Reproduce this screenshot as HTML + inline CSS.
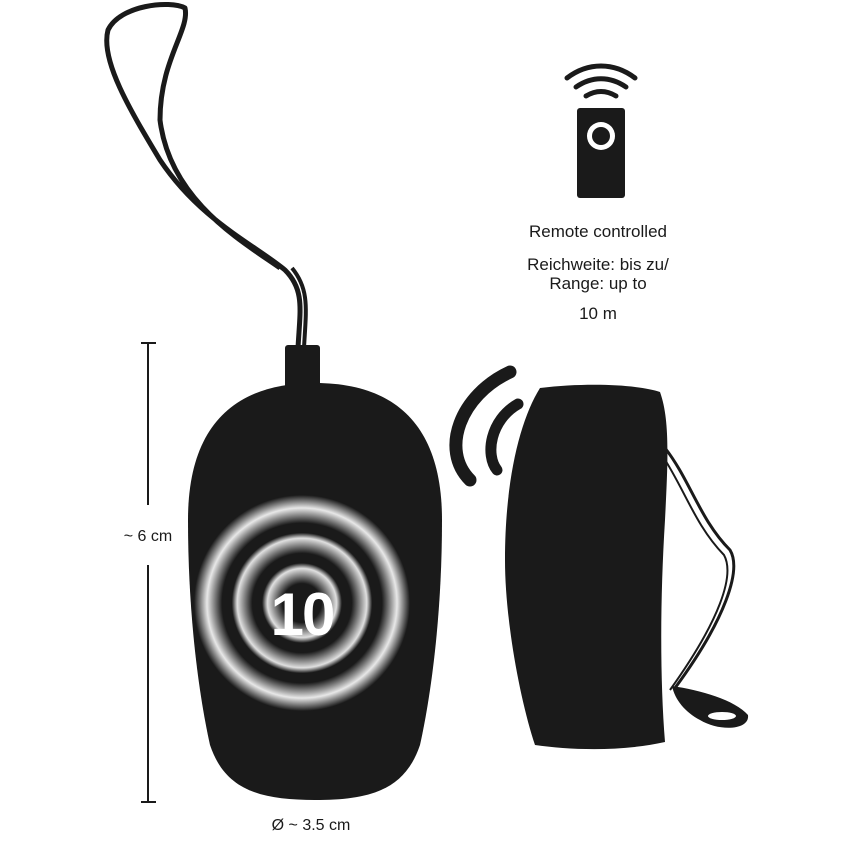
<!DOCTYPE html>
<html><head><style>body{margin:0;background:#fff}svg{display:block}</style></head><body>
<svg width="850" height="850" viewBox="0 0 850 850" xmlns="http://www.w3.org/2000/svg" font-family="Liberation Sans, sans-serif">
<defs>
<radialGradient id="rg" cx="302" cy="603" r="108" gradientUnits="userSpaceOnUse">
<stop offset="0" stop-color="#1a1a1a"/>
<stop offset="0.18" stop-color="#1a1a1a"/>
<stop offset="0.32" stop-color="#e0e0e0"/>
<stop offset="0.37" stop-color="#1a1a1a"/>
<stop offset="0.46" stop-color="#1a1a1a"/>
<stop offset="0.6" stop-color="#e0e0e0"/>
<stop offset="0.65" stop-color="#1a1a1a"/>
<stop offset="0.74" stop-color="#1a1a1a"/>
<stop offset="0.88" stop-color="#e8e8e8"/>
<stop offset="1" stop-color="#1a1a1a"/>
</radialGradient>
</defs>
<!-- cord -->
<path d="M298 348 C300 310 305 290 285 270 C255 245 200 220 160 160 C130 110 100 60 108 30 C120 5 170 0 185 8 C190 30 160 60 160 120 C170 200 240 240 280 268" fill="none" stroke="#1a1a1a" stroke-width="5" stroke-linejoin="round"/>
<path d="M304 348 C306 310 310 290 292 268" fill="none" stroke="#1a1a1a" stroke-width="4"/>
<!-- cap -->
<rect x="285" y="345" width="35" height="45" rx="3" fill="#1a1a1a"/>
<!-- egg -->
<path d="M315 383 C395 383 442 425 442 520 C442 620 430 700 420 745 C405 790 370 800 315 800 C260 800 225 790 210 745 C200 700 188 620 188 520 C188 425 235 383 315 383 Z" fill="#1a1a1a"/>
<circle cx="302" cy="603" r="108" fill="url(#rg)"/>
<text x="302" y="635" text-anchor="middle" font-size="60" font-weight="bold" fill="#fff" letter-spacing="-2">10</text>
<!-- dimension -->
<g stroke="#1a1a1a" stroke-width="2">
<line x1="148" y1="343" x2="148" y2="505"/>
<line x1="148" y1="565" x2="148" y2="802"/>
<line x1="141" y1="343" x2="156" y2="343"/>
<line x1="141" y1="802" x2="156" y2="802"/>
</g>
<text x="148" y="541" text-anchor="middle" font-size="16" fill="#1a1a1a">~ 6 cm</text>
<text x="311" y="830" text-anchor="middle" font-size="16" fill="#1a1a1a">Ø ~ 3.5 cm</text>
<!-- remote device -->
<path d="M540 388 C590 382 640 385 660 392 C670 420 668 460 665 520 C660 600 660 680 665 742 C620 752 570 750 535 745 C520 700 505 620 505 560 C505 480 520 420 540 388 Z" fill="#1a1a1a"/>
<!-- signal arcs -->
<path d="M510 372 C460 395 440 450 470 480" fill="none" stroke="#1a1a1a" stroke-width="13" stroke-linecap="round"/>
<path d="M518 404 C490 420 485 455 497 470" fill="none" stroke="#1a1a1a" stroke-width="11" stroke-linecap="round"/>
<!-- lanyard -->
<path d="M665 448 C690 480 700 520 730 550 C742 570 725 620 675 688" fill="none" stroke="#1a1a1a" stroke-width="3"/>
<path d="M662 455 C685 490 695 525 724 555 C735 575 720 620 670 690" fill="none" stroke="#1a1a1a" stroke-width="2"/>
<path d="M672 686 C700 690 735 700 748 715 C750 730 720 732 700 720 C685 712 675 700 672 686 Z" fill="#1a1a1a"/>
<ellipse cx="722" cy="716" rx="14" ry="4" fill="#fff"/>
<!-- small remote icon -->
<rect x="577" y="108" width="48" height="90" rx="3" fill="#1a1a1a"/>
<circle cx="601" cy="136" r="14" fill="#fff"/>
<circle cx="601" cy="136" r="9" fill="#1a1a1a"/>
<path d="M567 78 C588 62 614 62 635 78" fill="none" stroke="#1a1a1a" stroke-width="5" stroke-linecap="round"/>
<path d="M576 87 C592 76 610 76 626 87" fill="none" stroke="#1a1a1a" stroke-width="5" stroke-linecap="round"/>
<path d="M586 96 C596 90 606 90 616 96" fill="none" stroke="#1a1a1a" stroke-width="5" stroke-linecap="round"/>
<g font-size="17" fill="#1a1a1a" text-anchor="middle">
<text x="598" y="237">Remote controlled</text>
<text x="598" y="270">Reichweite: bis zu/</text>
<text x="598" y="289">Range: up to</text>
<text x="598" y="319">10 m</text>
</g>
</svg>
</body></html>
